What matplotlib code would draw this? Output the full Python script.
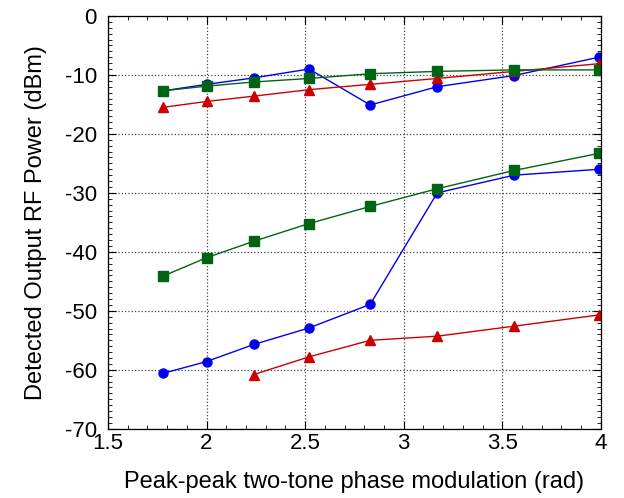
import numpy as np
import matplotlib
matplotlib.use("Agg")
import matplotlib.pyplot as plt
from matplotlib.ticker import MultipleLocator

plt.rcParams['font.family'] = ['Liberation Sans', 'DejaVu Sans']
plt.rcParams['axes.unicode_minus'] = False

# peak-peak phase modulation (rad)
x = [1.78, 2.0, 2.24, 2.52, 2.83, 3.17, 3.56, 3.99]
x_red_low = [2.24, 2.52, 2.83, 3.17, 3.56, 3.99]

blue_up = [-12.7, -11.6, -10.5, -9.0, -15.1, -12.0, -10.1, -7.0]
blue_low = [-60.6, -58.6, -55.7, -52.9, -48.9, -30.0, -27.0, -26.0]
red_up = [-15.5, -14.5, -13.6, -12.5, -11.6, -10.6, -9.4, -8.1]
red_low = [-60.8, -57.8, -55.0, -54.3, -52.6, -50.7]
green_up = [-12.7, -11.9, -11.2, -10.6, -9.8, -9.4, -9.15, -9.15]
green_low = [-44.1, -41.0, -38.2, -35.2, -32.3, -29.3, -26.2, -23.3]

blue = '#0000ee'
red = '#cc0000'
green = '#006414'

fig = plt.figure(figsize=(6.24, 4.98), dpi=100)
ax = fig.add_axes([0.173, 0.139, 0.79, 0.829])

ax.plot(x, blue_up, '-o', color=blue, lw=1, ms=6.5)
ax.plot(x, blue_low, '-o', color=blue, lw=1, ms=6.5)
ax.plot(x, red_up, '-^', color=red, lw=1, ms=6.5)
ax.plot(x_red_low, red_low, '-^', color=red, lw=1, ms=6.5)
ax.plot(x, green_up, '-s', color=green, lw=1, ms=6.5)
ax.plot(x, green_low, '-s', color=green, lw=1, ms=6.5)

ax.set_xlim(1.5, 4)
ax.set_ylim(-70, 0)
ax.xaxis.set_major_locator(MultipleLocator(0.5))
ax.xaxis.set_minor_locator(MultipleLocator(0.1))
ax.yaxis.set_major_locator(MultipleLocator(10))
ax.yaxis.set_minor_locator(MultipleLocator(1))
ax.set_xticks([1.5, 2, 2.5, 3, 3.5, 4])
ax.set_xticklabels(['1.5', '2', '2.5', '3', '3.5', '4'])
ax.tick_params(which='both', direction='in', top=True, right=True, labelsize=16)
ax.tick_params(axis='x', pad=3)
ax.tick_params(axis='y', pad=8)
ax.tick_params(which='major', length=6, width=0.8)
ax.tick_params(which='minor', length=3, width=0.6)
ax.grid(True, which='major', linestyle=':', color='#444444', lw=0.9)
for s in ax.spines.values():
    s.set_linewidth(0.9)

ax.set_xlabel("Peak-peak two-tone phase modulation (rad)", fontsize=17, labelpad=12)
ax.set_ylabel("Detected Output RF Power (dBm)", fontsize=17, labelpad=13)

fig.savefig("out.png", dpi=100)
